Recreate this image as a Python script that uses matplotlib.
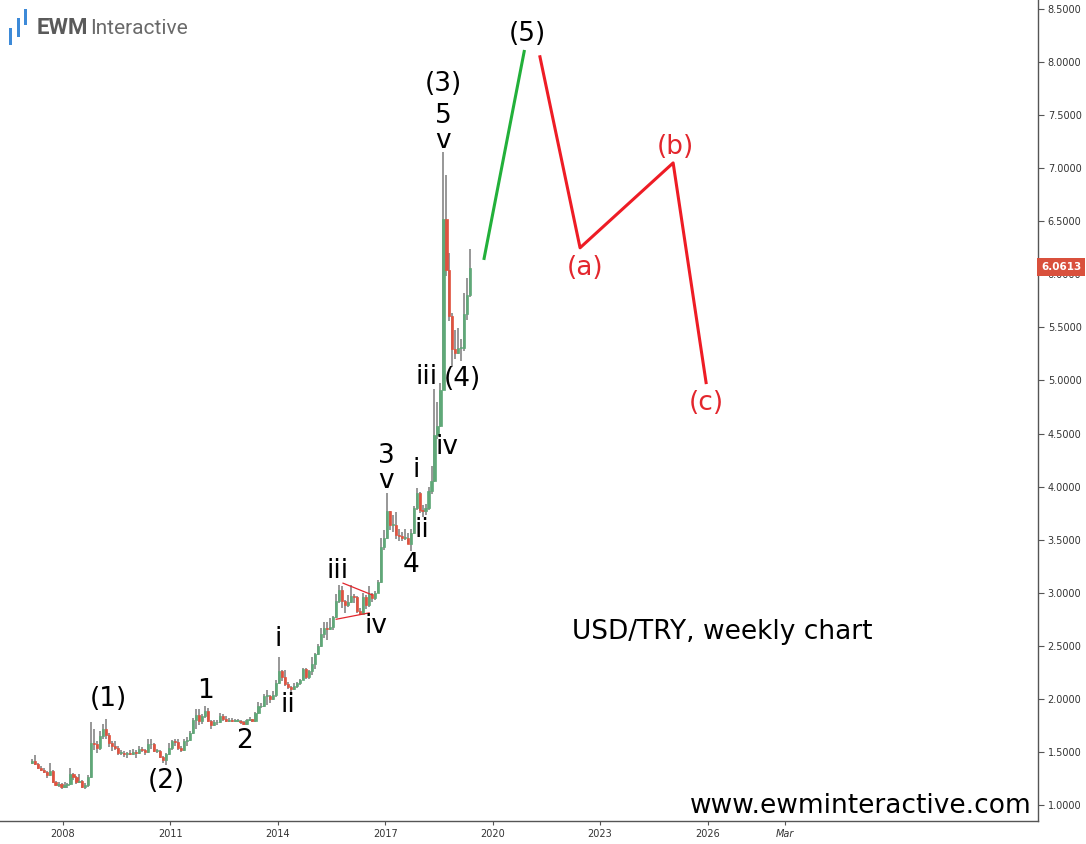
import matplotlib

matplotlib.use("Agg")
import matplotlib.pyplot as plt
from matplotlib.patches import Rectangle

# monthly USD/TRY candles, Feb 2007 .. May 2019
start_year, start_month = 2007, 2
highs = [
    1.43, 1.47, 1.40, 1.37, 1.35, 1.32, 1.40, 1.33, 1.23, 1.22, 1.21,
    1.22, 1.21, 1.35, 1.30, 1.27, 1.29, 1.24, 1.21, 1.28, 1.78, 1.72, 1.60,
    1.70, 1.76, 1.81, 1.68, 1.60, 1.60, 1.56, 1.52, 1.51, 1.50, 1.52, 1.53,
    1.52, 1.56, 1.55, 1.53, 1.62, 1.62, 1.58, 1.53, 1.52, 1.46, 1.49, 1.58,
    1.61, 1.62, 1.62, 1.56, 1.62, 1.64, 1.70, 1.82, 1.90, 1.90, 1.86, 1.93,
    1.91, 1.80, 1.80, 1.80, 1.87, 1.86, 1.84, 1.82, 1.82, 1.81, 1.81, 1.80,
    1.79, 1.81, 1.83, 1.81, 1.88, 1.97, 1.96, 2.05, 2.08, 2.04, 2.07, 2.18,
    2.39, 2.27, 2.27, 2.16, 2.12, 2.15, 2.16, 2.19, 2.29, 2.29, 2.27, 2.39,
    2.43, 2.52, 2.67, 2.72, 2.72, 2.76, 2.78, 2.99, 3.07, 3.06, 2.93, 2.98,
    3.07, 2.99, 2.97, 2.86, 3.00, 2.98, 3.06, 3.00, 3.02, 3.12, 3.52, 3.59,
    3.94, 3.77, 3.73, 3.76, 3.60, 3.57, 3.60, 3.56, 3.60, 3.82, 3.99, 3.95,
    3.83, 3.84, 4.00, 4.19, 4.92, 4.80, 4.98, 7.15, 6.94, 6.20, 5.64, 5.48,
    5.49, 5.39, 5.82, 5.97, 6.24,
]
lows = [
    1.39, 1.38, 1.34, 1.32, 1.30, 1.25, 1.27, 1.21, 1.18, 1.17, 1.15,
    1.16, 1.16, 1.19, 1.24, 1.20, 1.21, 1.16, 1.15, 1.17, 1.25, 1.52, 1.49,
    1.52, 1.62, 1.62, 1.55, 1.51, 1.52, 1.47, 1.47, 1.45, 1.44, 1.47, 1.47,
    1.44, 1.48, 1.50, 1.47, 1.49, 1.53, 1.50, 1.49, 1.44, 1.40, 1.38, 1.47,
    1.52, 1.56, 1.52, 1.50, 1.51, 1.56, 1.60, 1.67, 1.72, 1.75, 1.76, 1.82,
    1.78, 1.72, 1.74, 1.75, 1.77, 1.79, 1.78, 1.78, 1.78, 1.78, 1.78, 1.76,
    1.75, 1.75, 1.79, 1.78, 1.78, 1.86, 1.91, 1.92, 1.94, 1.96, 1.99, 2.02,
    2.14, 2.17, 2.12, 2.09, 2.06, 2.08, 2.10, 2.13, 2.18, 2.19, 2.19, 2.22,
    2.28, 2.41, 2.49, 2.57, 2.55, 2.65, 2.65, 2.76, 2.90, 2.86, 2.81, 2.87,
    2.90, 2.90, 2.81, 2.79, 2.80, 2.85, 2.87, 2.91, 2.93, 3.00, 3.09, 3.40,
    3.51, 3.59, 3.57, 3.51, 3.49, 3.49, 3.50, 3.46, 3.39, 3.55, 3.78, 3.75,
    3.71, 3.73, 3.78, 3.93, 4.04, 4.45, 4.56, 4.91, 5.98, 5.56, 5.13, 5.20,
    5.25, 5.18, 5.28, 5.57, 5.79,
]
closes = [
    1.41, 1.39, 1.35, 1.33, 1.31, 1.28, 1.32, 1.22, 1.19, 1.20, 1.17,
    1.19, 1.20, 1.29, 1.26, 1.22, 1.23, 1.17, 1.19, 1.26, 1.58, 1.57, 1.54,
    1.65, 1.72, 1.66, 1.58, 1.56, 1.54, 1.49, 1.49, 1.48, 1.49, 1.48, 1.50,
    1.49, 1.53, 1.52, 1.50, 1.57, 1.57, 1.51, 1.51, 1.45, 1.42, 1.48, 1.54,
    1.60, 1.59, 1.54, 1.52, 1.60, 1.61, 1.68, 1.80, 1.85, 1.79, 1.84, 1.89,
    1.79, 1.75, 1.78, 1.78, 1.84, 1.81, 1.79, 1.80, 1.79, 1.79, 1.79, 1.78,
    1.76, 1.80, 1.81, 1.79, 1.87, 1.93, 1.93, 2.03, 2.03, 2.00, 2.04, 2.15,
    2.26, 2.21, 2.14, 2.11, 2.09, 2.12, 2.15, 2.18, 2.28, 2.21, 2.26, 2.33,
    2.42, 2.50, 2.61, 2.67, 2.66, 2.68, 2.77, 2.92, 3.03, 2.92, 2.88, 2.91,
    2.97, 2.96, 2.83, 2.80, 2.96, 2.88, 2.99, 2.95, 3.00, 3.10, 3.43, 3.52,
    3.77, 3.64, 3.64, 3.54, 3.53, 3.52, 3.52, 3.46, 3.56, 3.80, 3.94, 3.78,
    3.77, 3.80, 3.96, 4.05, 4.49, 4.57, 4.91, 6.52, 6.04, 5.61, 5.30, 5.26,
    5.31, 5.31, 5.63, 5.81, 6.06,
]
first_open = 1.40
last_price = "6.0613"

# projected path (decimal year, price)
green_x = [2019.76, 2020.88]
green_y = [6.15, 8.10]
red_x = [2021.32, 2022.44, 2025.04, 2025.96]
red_y = [8.05, 6.25, 7.05, 4.98]

year_ticks = [2008, 2011, 2014, 2017, 2020, 2023, 2026, 2028.17]
year_labels = ["2008", "2011", "2014", "2017", "2020", "2023", "2026", "Mar"]
price_ticks = [1.0, 1.5, 2.0, 2.5, 3.0, 3.5, 4.0, 4.5, 5.0, 5.5, 6.0, 6.5, 7.0, 7.5, 8.0, 8.5]

# wave labels: text, x, y, colour
waves = [
    ("(1)", 2009.26, 2.00, "black"), ("(2)", 2010.88, 1.23, "black"),
    ("1", 2011.99, 2.07, "black"), ("2", 2013.06, 1.60, "black"),
    ("i", 2014.00, 2.56, "black"), ("ii", 2014.28, 1.94, "black"),
    ("iii", 2015.68, 3.20, "black"), ("iv", 2016.74, 2.69, "black"),
    ("3", 2017.02, 4.29, "black"), ("v", 2017.02, 4.05, "black"),
    ("i", 2017.86, 4.16, "black"), ("ii", 2018.03, 3.59, "black"),
    ("4", 2017.72, 3.26, "black"), ("iii", 2018.14, 5.03, "black"),
    ("(4)", 2019.15, 5.01, "black"), ("iv", 2018.73, 4.37, "black"),
    ("(3)", 2018.61, 7.79, "black"), ("5", 2018.61, 7.49, "black"),
    ("v", 2018.61, 7.26, "black"), ("(5)", 2020.96, 8.26, "black"),
    ("(a)", 2022.58, 6.06, "#e3262d"), ("(b)", 2025.09, 7.20, "#e3262d"),
    ("(c)", 2025.96, 4.79, "#e3262d"),
]

W, H = 1086, 844
fig = plt.figure(figsize=(W / 100, H / 100), dpi=100)
ax = fig.add_axes([0, 23 / H, 1038 / W, 821 / H])
ax.set_xlim(2006.24, 2035.23)
ax.set_ylim(0.849, 8.585)

xs = [start_year + (start_month - 1 + i + 0.5) / 12 for i in range(len(closes))]
opens = [first_open] + closes[:-1]
for x, o, h, l, c in zip(xs, opens, highs, lows, closes):
    ax.vlines(x, l, h, color="#7a7a7a", lw=1.1, zorder=2)
    col = "#5fa878" if c >= o else "#e0523f"
    ax.add_patch(Rectangle((x - 0.03, min(o, c)), 0.06, max(abs(c - o), 0.006),
                           facecolor=col, edgecolor=col, lw=0.5, zorder=3))

# triangle trend lines in wave iv
ax.plot([2015.82, 2016.63], [3.09, 2.98], color="#e3262d", lw=0.9, zorder=4)
ax.plot([2015.63, 2016.55], [2.75, 2.81], color="#e3262d", lw=0.9, zorder=4)

ax.plot(green_x, green_y, color="#22b03a", lw=2.2, zorder=4)
ax.plot(red_x, red_y, color="#ee1c25", lw=2.2, zorder=4)

for txt, x, y, col in waves:
    ax.text(x, y, txt, color=col, fontsize=19, ha="center", va="center", zorder=5)

ax.text(2026.41, 2.63, "USD/TRY, weekly chart", fontsize=19, ha="center", va="center")
ax.text(1.0 - 6 / 1038, 0.003, "www.ewminteractive.com", transform=ax.transAxes,
        fontsize=19, ha="right", va="bottom",
        bbox=dict(facecolor="white", edgecolor="none", pad=1))

for side in ("left", "top"):
    ax.spines[side].set_visible(False)
for side in ("right", "bottom"):
    ax.spines[side].set_color("#555555")
    ax.spines[side].set_linewidth(1.0)

ax.yaxis.tick_right()
ax.set_yticks(price_ticks)
ax.set_yticklabels([f"{p:.4f}" for p in price_ticks])
ax.set_xticks(year_ticks)
ax.set_xticklabels(year_labels)
ax.tick_params(axis="y", length=4, width=0.8, color="#555555", labelsize=7,
               labelcolor="#333333", pad=3)
ax.tick_params(axis="x", length=3, width=0.8, color="#555555", labelsize=7,
               labelcolor="#333333", pad=3)
for lbl in ax.get_xticklabels()[-1:]:
    lbl.set_style("italic")

# last-price tag
fig.text(1041 / W, 1 - 267 / H, last_price, fontsize=7.5, fontweight="bold",
         color="white", ha="left", va="center",
         bbox=dict(facecolor="#d9503c", edgecolor="none", boxstyle="square,pad=0.35"))

# logo
for bx, y0, y1 in [(9, 28, 45), (17, 18, 37), (24, 9, 25)]:
    fig.add_artist(Rectangle((bx / W, 1 - y1 / H), 3 / W, (y1 - y0) / H,
                             facecolor="#3d8ad8", edgecolor="none"))
fig.text(37 / W, 1 - 28 / H, "EWM", fontsize=16, fontweight="bold",
         color="#5a5a5a", family="Roboto", va="center", ha="left")
fig.text(90 / W, 1 - 28 / H, "Interactive", fontsize=15, color="#6a6a6a",
         family="Roboto", va="center", ha="left")

fig.savefig("out.png", dpi=100)
